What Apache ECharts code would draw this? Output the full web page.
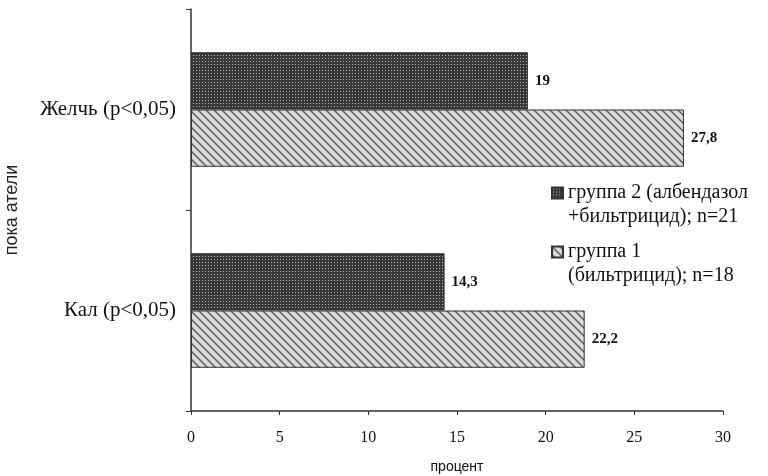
<!DOCTYPE html>
<html>
<head>
<meta charset="utf-8">
<script src="https://cdn.jsdelivr.net/npm/echarts@6/dist/echarts.min.js"></script>
<style>
	html, body { margin: 0; padding: 0; background: #fff; }
	#chart { width: 768px; height: 476px; }
</style>
</head>
<body>
<div id="chart"></div>
<script>
	// data
	var categories = ['Кал (p<0,05)', 'Желчь (p<0,05)']
	var group2Name = 'группа 2 (албендазол\n+бильтрицид); n=21'
	var group1Name = 'группа 1\n(бильтрицид); n=18'
	var group2Values = [14.3, 19]
	var group1Values = [22.2, 27.8]
	var xTicks = [0, 5, 10, 15, 20, 25, 30]

	// dotted dark fill
	function dotPattern() {
		var c = document.createElement('canvas')
		c.width = 3
		c.height = 3
		var ctx = c.getContext('2d')
		ctx.fillStyle = '#383838'
		ctx.fillRect(0, 0, 3, 3)
		ctx.fillStyle = '#b8b8b8'
		ctx.fillRect(1, 1, 1, 1)
		return c
	}

	// light fill with "\" hatch
	function hatchPattern() {
		var s = 8
		var c = document.createElement('canvas')
		c.width = s
		c.height = s
		var ctx = c.getContext('2d')
		ctx.fillStyle = '#dadada'
		ctx.fillRect(0, 0, s, s)
		ctx.strokeStyle = '#5a5a5a'
		ctx.lineWidth = 1.4
		ctx.beginPath()
		ctx.moveTo(-2, -2)
		ctx.lineTo(s + 2, s + 2)
		ctx.moveTo(-2, s - 2)
		ctx.lineTo(2, s + 2)
		ctx.moveTo(s - 2, -2)
		ctx.lineTo(s + 2, 2)
		ctx.stroke()
		return c
	}

	function fmt(p) {
		return String(p.value).replace('.', ',')
	}

	var serif = '"Liberation Serif", "DejaVu Serif", serif'
	var sans = '"Liberation Sans", Arial, sans-serif'

	var labelStyle = {
		show: true,
		position: 'right',
		distance: 7,
		formatter: fmt,
		fontFamily: serif,
		fontSize: 15,
		fontWeight: 'bold',
		color: '#111'
	}

	var option = {
		animation: false,
		grid: {
			left: 191,
			right: 45,
			top: 9,
			bottom: 65,
			containLabel: false,
			outerBoundsMode: 'none'
		},
		legend: {
			orient: 'vertical',
			left: 551,
			top: 157,
			padding: 0,
			itemGap: -13,
			itemWidth: 11,
			itemHeight: 11,
			icon: 'rect',
			data: [group2Name, group1Name],
			// empty first line keeps the icon level with the first text line
			formatter: function (name) {
				return '\n' + name
			},
			textStyle: {
				fontFamily: serif,
				fontSize: 20,
				lineHeight: 24,
				color: '#111'
			}
		},
		xAxis: {
			type: 'value',
			min: xTicks[0],
			max: xTicks[xTicks.length - 1],
			interval: 5,
			name: 'процент',
			nameLocation: 'middle',
			nameGap: 49,
			nameTextStyle: {
				fontFamily: sans,
				fontSize: 14,
				color: '#111'
			},
			axisLine: {
				show: true,
				lineStyle: { color: '#333', width: 1.5 }
			},
			axisTick: {
				show: true,
				length: 4,
				lineStyle: { color: '#333' }
			},
			splitLine: { show: false },
			axisLabel: {
				margin: 19,
				fontFamily: serif,
				fontSize: 16,
				color: '#111'
			}
		},
		yAxis: {
			type: 'category',
			data: categories,
			name: 'пока атели',
			nameLocation: 'middle',
			nameGap: 170,
			nameTextStyle: {
				fontFamily: sans,
				fontSize: 18,
				color: '#222'
			},
			axisLine: {
				show: true,
				lineStyle: { color: '#333', width: 1.5 }
			},
			axisTick: {
				show: true,
				length: 5,
				lineStyle: { color: '#333' }
			},
			axisLabel: {
				margin: 15,
				fontFamily: serif,
				fontSize: 21,
				color: '#111'
			}
		},
		series: [{
			name: group2Name,
			type: 'bar',
			data: group2Values,
			barGap: '0%',
			barCategoryGap: '43%',
			itemStyle: {
				color: { image: dotPattern(), repeat: 'repeat' },
				borderColor: '#333',
				borderWidth: 1
			},
			label: labelStyle
		}, {
			name: group1Name,
			type: 'bar',
			data: group1Values,
			barGap: '0%',
			barCategoryGap: '43%',
			itemStyle: {
				color: { image: hatchPattern(), repeat: 'repeat' },
				borderColor: '#333',
				borderWidth: 1
			},
			label: labelStyle
		}]
	}

	var chart = echarts.init(document.getElementById('chart'))
	chart.setOption(option)
</script>
</body>
</html>
